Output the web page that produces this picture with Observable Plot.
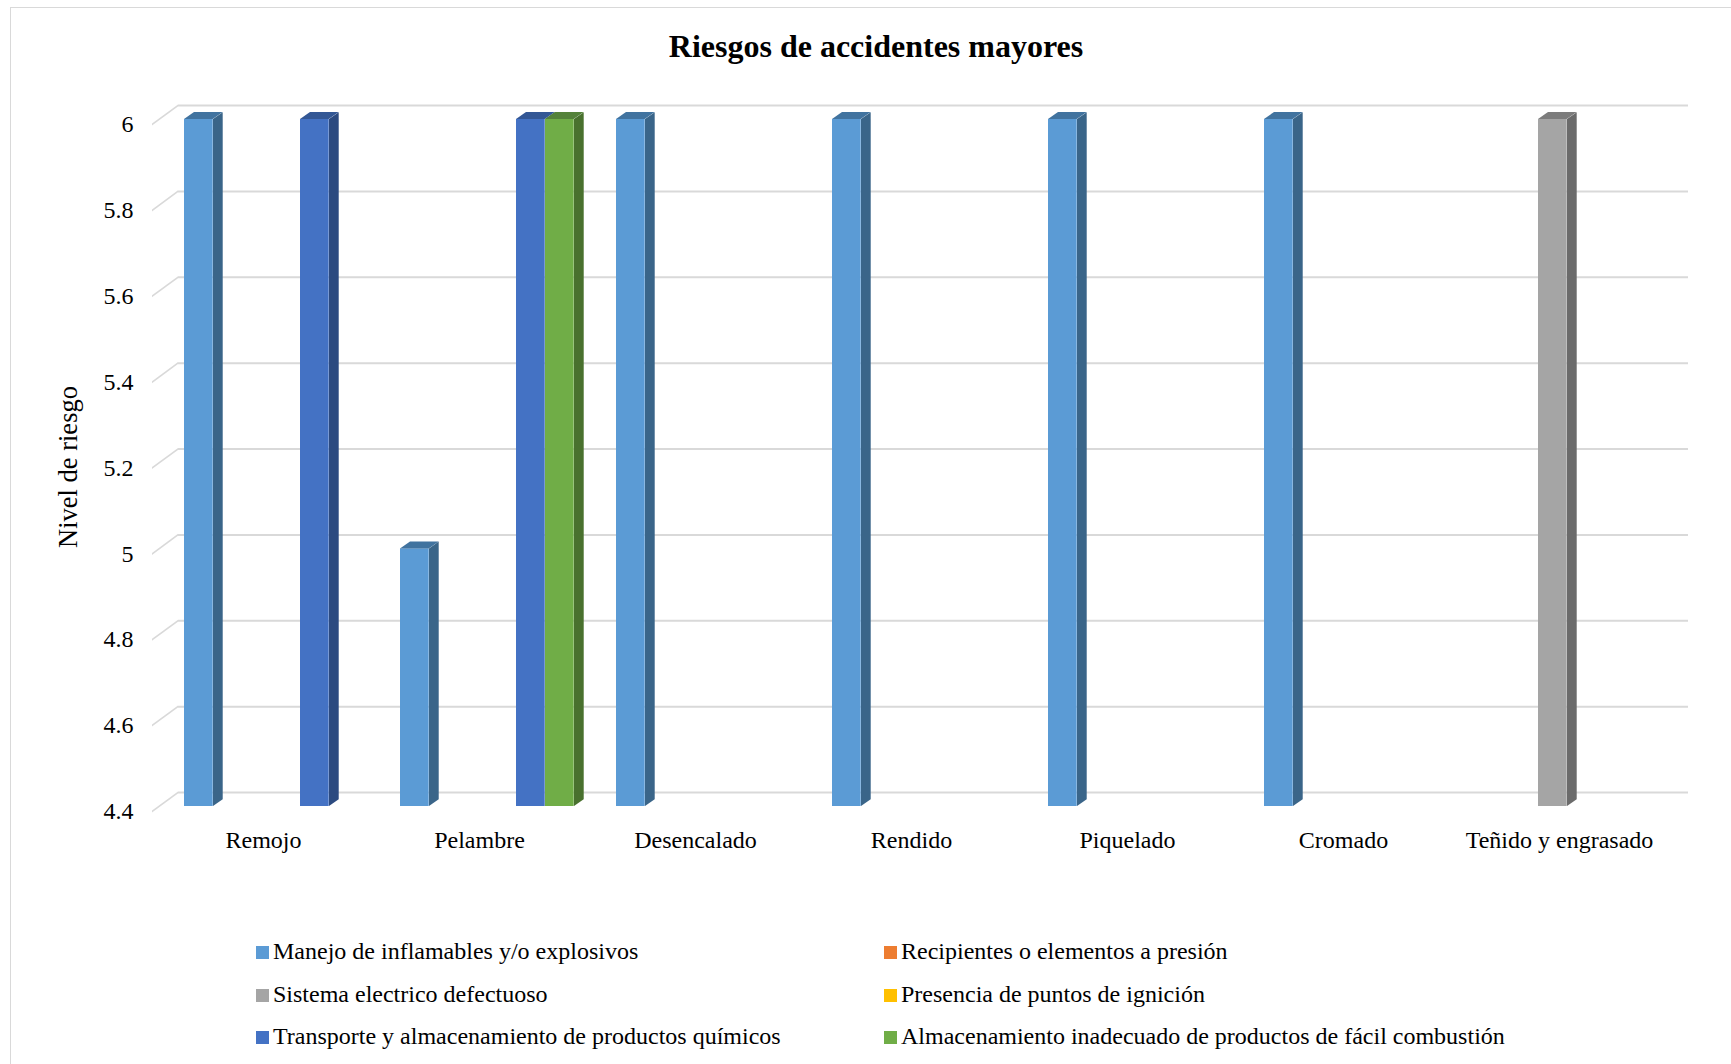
<!DOCTYPE html>
<html>
<head>
<meta charset="utf-8">
<script src="https://cdn.jsdelivr.net/npm/d3@7"></script>
<script src="https://cdn.jsdelivr.net/npm/@observablehq/plot@0.6"></script>
<style>
  html, body { margin: 0; padding: 0; background: #fff; }
  body { font-family: "Liberation Serif", "Times New Roman", serif; color: #000; width: 1731px; height: 1064px; overflow: hidden; position: relative; }
  #frame { position: absolute; left: 10px; top: 7px; width: 1760px; height: 1100px; border: 1px solid #d9d9d9; box-sizing: border-box; }
  #title { position: absolute; left: 376px; width: 1000px; top: 30px; text-align: center; font-weight: bold; font-size: 32px; line-height: 1; }
  #chart { position: absolute; left: 0; top: 80px; }
  #ytitle { position: absolute; left: 68px; top: 467px; transform: translate(-50%, -50%) rotate(-90deg); font-size: 26.5px; white-space: nowrap; line-height: 1; }
  #legend { position: absolute; left: 256px; top: 930px; display: grid; grid-template-columns: 628px 628px; font-size: 24px; line-height: 42.5px; white-space: nowrap; }
  #legend .sw { display: inline-block; width: 13px; height: 13px; margin-right: 4px; vertical-align: baseline; }
  g[aria-description="side"] rect { transform-box: fill-box; transform-origin: 0 0; transform: skewY(-35deg); }
  g[aria-description="top"] rect { transform-box: fill-box; transform-origin: 0 100%; transform: skewX(-55deg); }
  g[aria-description="diag"] line { transform-box: fill-box; transform-origin: 0 0; transform: skewY(-36.2deg); }
</style>
</head>
<body>
<div id="frame"></div>
<div id="title">Riesgos de accidentes mayores</div>
<div id="chart"></div>
<div id="ytitle">Nivel de riesgo</div>
<div id="legend"></div>
<script>
// ---- data ----
const categories = ["Remojo", "Pelambre", "Desencalado", "Rendido", "Piquelado", "Cromado", "Teñido y engrasado"];
const series = [
  "Manejo de inflamables y/o explosivos",
  "Recipientes o elementos a presión",
  "Sistema electrico defectuoso",
  "Presencia de puntos de ignición",
  "Transporte y almacenamiento de productos químicos",
  "Almacenamiento inadecuado de productos de fácil combustión"
];
// values per series, one per category (null = below the axis minimum / not shown)
const manejo         = [6, 5, 6, 6, 6, 6, null];
const recipientes    = [null, null, null, null, null, null, null];
const sistema        = [null, null, null, null, null, null, 6];
const presencia      = [null, null, null, null, null, null, null];
const transporte     = [6, 6, null, null, null, null, null];
const almacenamiento = [null, 6, null, null, null, null, null];
const seriesValues = [manejo, recipientes, sistema, presencia, transporte, almacenamiento];

const yTicks = [4.4, 4.6, 4.8, 5, 5.2, 5.4, 5.6, 5.8, 6];
const yTickLabels = ["4.4", "4.6", "4.8", "5", "5.2", "5.4", "5.6", "5.8", "6"];
const yMin = 4.4, yMax = 6;

// ---- styles ----
const colors     = ["#5B9BD5", "#ED7D31", "#A5A5A5", "#FFC000", "#4472C4", "#70AD47"];
const sideColors = ["#3A6589", "#9A5120", "#6B6B6B", "#A67D00", "#2C4A80", "#49712E"];
const topColors  = ["#41739F", "#B05D25", "#7C7C7C", "#BF9000", "#335795", "#54823A"];

// ---- table ----
const table = [];
series.forEach((s, i) => categories.forEach((c, j) => {
  table.push({category: c, series: s, value: seriesValues[i][j]});
}));

const W = 1731, H = 790, ML = 162, MR = 55, MT = 39, MB = 64;
const B = (W - ML - MR) / categories.length;
const OFF = 21, BW = 29, DEPTH = 10, TOPH = 7;

const barMarks = series.flatMap((s, i) => {
  const rows = table.filter(d => d.series === s && d.value != null);
  const l = OFF + BW * i;
  const r = B - l - BW;
  return [
    Plot.barY(rows, {x: "category", y1: () => yMin, y2: "value", insetLeft: l, insetRight: r, fill: colors[i]}),
    Plot.barY(rows, {x: "category", y1: () => yMin, y2: "value", insetLeft: l + BW, insetRight: r - DEPTH, fill: sideColors[i], ariaDescription: "side"}),
    Plot.barY(rows, {x: "category", y1: "value", y2: "value", insetLeft: l, insetRight: r, insetTop: -TOPH, fill: topColors[i], ariaDescription: "top"})
  ];
});

const chart = Plot.plot({
  width: W,
  height: H,
  marginLeft: ML,
  marginRight: MR,
  marginTop: MT,
  marginBottom: MB,
  style: {fontFamily: "'Liberation Serif', 'Times New Roman', serif", fontSize: "24px", color: "#000", background: "transparent", overflow: "visible"},
  x: {domain: categories, padding: 0, axis: null},
  y: {domain: [yMin, yMax], axis: null},
  marks: [
    Plot.ruleY(yTicks, {y: d => d, dx: 16, dy: -14, insetRight: 4, stroke: "#d9d9d9", strokeWidth: 2}),
    Plot.ruleY(yTicks, {y: d => d, dx: -10, dy: 5, insetRight: W - ML - MR - 26, stroke: "#d9d9d9", strokeWidth: 2, ariaDescription: "diag"}),
    ...barMarks,
    Plot.axisX({tickSize: 0, tickPadding: 24, dx: -8, label: null, fontSize: 24}),
    Plot.axisY({ticks: yTicks, tickFormat: d => yTickLabels[yTicks.indexOf(d)], tickSize: 0, tickPadding: 29, dy: 5, label: null, fontSize: 24})
  ]
});
document.getElementById("chart").appendChild(chart);

// ---- legend ----
const legend = d3.select("#legend");
series.forEach((s, i) => {
  const item = legend.append("div");
  item.append("span").attr("class", "sw").style("background", colors[i]);
  item.append("span").text(s);
});
</script>
</body>
</html>
